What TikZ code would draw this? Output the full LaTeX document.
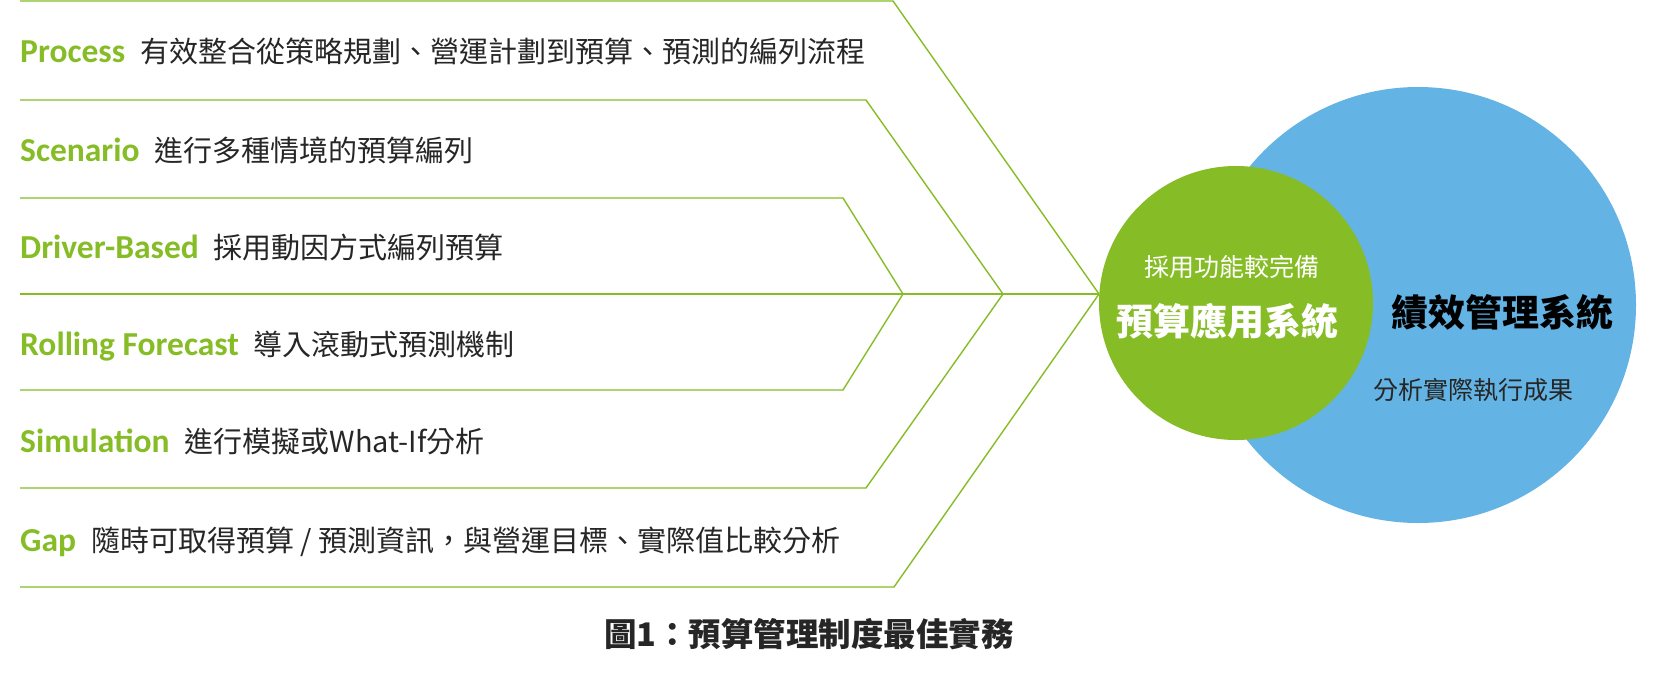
\documentclass[tikz,border=0pt]{standalone}
\usepackage{fontspec}
\newfontfamily\en{Carlito}
\newfontfamily\cjk{Noto Sans CJK TC}
\definecolor{cgreen}{RGB}{134,188,37}
\definecolor{cblue}{RGB}{99,180,228}
\definecolor{cgray}{RGB}{38,38,38}
\newcommand\rowlbl[2]{{\color{cgreen}\en\bfseries\fontsize{33.5}{36}\selectfont #1}\hspace{15pt}#2}
\tikzset{
  rowtxt/.style={anchor=west, inner sep=0pt, text=cgray, font=\cjk\fontsize{29}{32}\selectfont, text height=25.5pt, text depth=3.5pt},
  gline/.style={draw=cgreen, line width=1.4pt, line join=miter},
  bubble/.style={circle, inner sep=0pt, draw=none},
  smalltxt/.style={inner sep=0pt, font=\cjk\fontsize{25}{28}\selectfont},
  bigtxt/.style={inner sep=0pt, font=\cjk\bfseries\fontsize{37}{40}\selectfont},
}
\begin{document}
\begin{tikzpicture}[x=1pt,y=-1pt]
\useasboundingbox (0,0) rectangle (1667,672);
% circles
\node[bubble, fill=cblue, minimum size=436pt] (perf) at (1418,305) {};
\node[bubble, fill=cgreen, minimum size=274pt] (budget) at (1236,303) {};
% coordinates of the lines
\coordinate (a1) at (20,1);   \coordinate (b1) at (893,1);
\coordinate (a2) at (20,100); \coordinate (b2) at (866,100);
\coordinate (a3) at (20,198); \coordinate (b3) at (843,198);
\coordinate (a4) at (20,294);
\coordinate (a5) at (20,390); \coordinate (b5) at (843,390);
\coordinate (a6) at (20,488); \coordinate (b6) at (866,488);
\coordinate (a7) at (20,587); \coordinate (b7) at (894,587);
\coordinate (j1) at (903,294);
\coordinate (j2) at (1003,294);
\coordinate (j3) at (1099,294);
\draw[gline] (a1) -- (b1) -- (j3);
\draw[gline] (a2) -- (b2) -- (j2);
\draw[gline] (a3) -- (b3) -- (j1);
\draw[gline] (a4) -- (j1) -- (j2) -- (j3);
\draw[gline] (a5) -- (b5) -- (j1);
\draw[gline] (a6) -- (b6) -- (j2);
\draw[gline] (a7) -- (b7) -- (j3);
% row texts
\node[rowtxt] (r1) at (20,51)  {\rowlbl{Process}{有效整合從策略規劃、營運計劃到預算、預測的編列流程}};
\node[rowtxt] (r2) at (20,150) {\rowlbl{Scenario}{進行多種情境的預算編列}};
\node[rowtxt] (r3) at (20,247) {\rowlbl{Driver-Based}{採用動因方式編列預算}};
\node[rowtxt] (r4) at (20,344) {\rowlbl{Rolling Forecast}{導入滾動式預測機制}};
\node[rowtxt] (r5) at (20,441) {\rowlbl{Simulation}{進行模擬或What-If分析}};
\node[rowtxt] (r6) at (20,540) {\rowlbl{Gap}{隨時可取得預算 / 預測資訊，與營運目標、實際值比較分析}};
% circle texts
\node[smalltxt, text=white] (t1) at (1232,267) {採用功能較完備};
\node[bigtxt, text=white] (t2) at (1227,321) {預算應用系統};
\node[bigtxt, text=black] (t3) at (1502,312) {績效管理系統};
\node[smalltxt, text=cgray] (t4) at (1473,390) {分析實際執行成果};
% title
\node[inner sep=0pt, text=cgray, font=\cjk\bfseries\fontsize{32.5}{36}\selectfont] (title) at (809,634) {圖1：預算管理制度最佳實務};
\end{tikzpicture}
\end{document}
